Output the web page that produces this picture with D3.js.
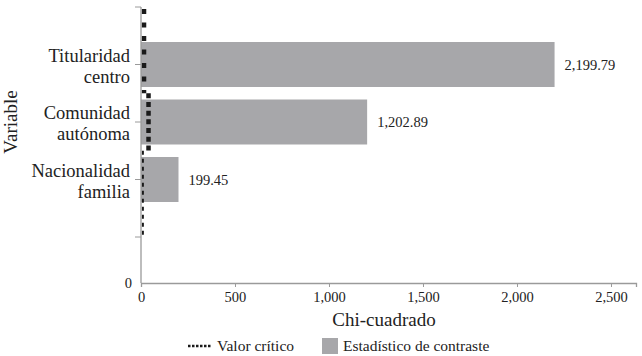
<!DOCTYPE html>
<html>
<head>
<meta charset="utf-8">
<script src="https://cdn.jsdelivr.net/npm/d3@7"></script>
<style>
  body { margin: 0; background: #fff; }
</style>
</head>
<body>
<div id="chart"></div>
<script>
// Data
const categories = ["Titularidad centro", "Comunidad autónoma", "Nacionalidad familia"];
const categoryLines = [["Titularidad", "centro"], ["Comunidad", "autónoma"], ["Nacionalidad", "familia"]];
const statistic = [2199.79, 1202.89, 199.45];
const critical = [16, 40, 10];
const xTicks = [0, 500, 1000, 1500, 2000, 2500];

const width = 642, height = 356;
const FONT = "'Liberation Serif'";

const svg = d3.select("#chart").append("svg")
    .attr("width", width)
    .attr("height", height);

// helper so every text gets the serif font
function label(sel) {
    return sel.style("font-family", FONT).attr("fill", "#222");
}

// x scale: Chi-cuadrado
const x = d3.scaleLinear().domain([0, 2633]).range([141, 636]);

// y slots: empty slot above and below the three categories
const slots = ["top"].concat(categories, ["bottom"]);
const y = d3.scalePoint().domain(slots).range([7, 237]);
const step = y.step();
const y0 = 283; // axis origin
const barH = 45;

// bars
svg.selectAll(".bar")
    .data(categories)
    .enter().append("rect")
    .attr("class", "bar")
    .attr("x", x(0))
    .attr("y", d => y(d) - barH / 2)
    .attr("width", (d, i) => x(statistic[i]) - x(0))
    .attr("height", barH)
    .attr("fill", "#a7a7aa");

// value labels
const fmt = d3.format(",.2f");
svg.selectAll(".val")
    .data(categories)
    .enter().append("text")
    .attr("x", (d, i) => x(statistic[i]) + 10)
    .attr("y", d => y(d) + 5)
    .attr("font-size", "14.5px")
    .call(label)
    .text((d, i) => fmt(statistic[i]));

// critical value step line (dotted)
const segStyle = [
    { w: 4.5, dash: "5,8.5" },
    { w: 4.5, dash: "5,3.7" },
    { w: 2, dash: "4,4" }
];
categories.forEach(function(c, i) {
    const top = i === 0 ? y("top") + 2 : y(c) - step / 2;
    const bottom = i === categories.length - 1 ? y("bottom") : y(c) + step / 2;
    svg.append("line")
        .attr("x1", x(critical[i]))
        .attr("x2", x(critical[i]))
        .attr("y1", top)
        .attr("y2", bottom)
        .attr("stroke", "#1a1a1a")
        .attr("stroke-width", segStyle[i].w)
        .attr("stroke-dasharray", segStyle[i].dash);
});

// x axis
const xAxis = svg.append("g")
    .attr("transform", `translate(0,${y0})`)
    .call(d3.axisBottom(x).tickValues(xTicks).tickFormat(d3.format(",")).tickSize(4).tickPadding(5));
xAxis.select(".domain").attr("stroke", "#9a9a9a").attr("stroke-width", 1.3);
xAxis.selectAll(".tick line").attr("stroke", "#9a9a9a");
xAxis.selectAll(".tick text")
    .attr("font-size", "14.5px")
    .call(label);

// y axis line and ticks
svg.append("line")
    .attr("x1", x(0)).attr("x2", x(0))
    .attr("y1", y("top")).attr("y2", y0)
    .attr("stroke", "#9a9a9a").attr("stroke-width", 1.3);
svg.selectAll(".ytick")
    .data(slots)
    .enter().append("line")
    .attr("x1", x(0) - 6).attr("x2", x(0))
    .attr("y1", d => y(d)).attr("y2", d => y(d))
    .attr("stroke", "#9a9a9a");
svg.append("text")
    .attr("x", x(0) - 9)
    .attr("y", y0 + 5)
    .attr("text-anchor", "end")
    .attr("font-size", "14.5px")
    .call(label)
    .text("0");

// category labels
categories.forEach(function(c, i) {
    const t = svg.append("text")
        .attr("text-anchor", "end")
        .attr("font-size", "18.5px")
        .call(label);
    categoryLines[i].forEach(function(line, j) {
        t.append("tspan")
            .attr("x", 130)
            .attr("y", y(c) - 3 + j * 21)
            .text(line);
    });
});

// axis titles
svg.append("text")
    .attr("x", 384)
    .attr("y", 326)
    .attr("text-anchor", "middle")
    .attr("font-size", "19px")
    .call(label)
    .text("Chi-cuadrado");

svg.append("text")
    .attr("transform", "translate(17,122) rotate(-90)")
    .attr("text-anchor", "middle")
    .attr("font-size", "19px")
    .call(label)
    .text("Variable");

// legend
const lg = svg.append("g").attr("transform", "translate(0,346)");
lg.append("line")
    .attr("x1", 188).attr("x2", 212)
    .attr("y1", 0).attr("y2", 0)
    .attr("stroke", "#1a1a1a")
    .attr("stroke-width", 2.5)
    .attr("stroke-dasharray", "2.5,1.5");
lg.append("text")
    .attr("x", 217).attr("y", 5)
    .attr("font-size", "15.5px")
    .call(label)
    .text("Valor crítico");
lg.append("rect")
    .attr("x", 322).attr("y", -8)
    .attr("width", 16).attr("height", 16)
    .attr("fill", "#a7a7aa");
lg.append("text")
    .attr("x", 343).attr("y", 5)
    .attr("font-size", "15.5px")
    .call(label)
    .text("Estadístico de contraste");
</script>
</body>
</html>
